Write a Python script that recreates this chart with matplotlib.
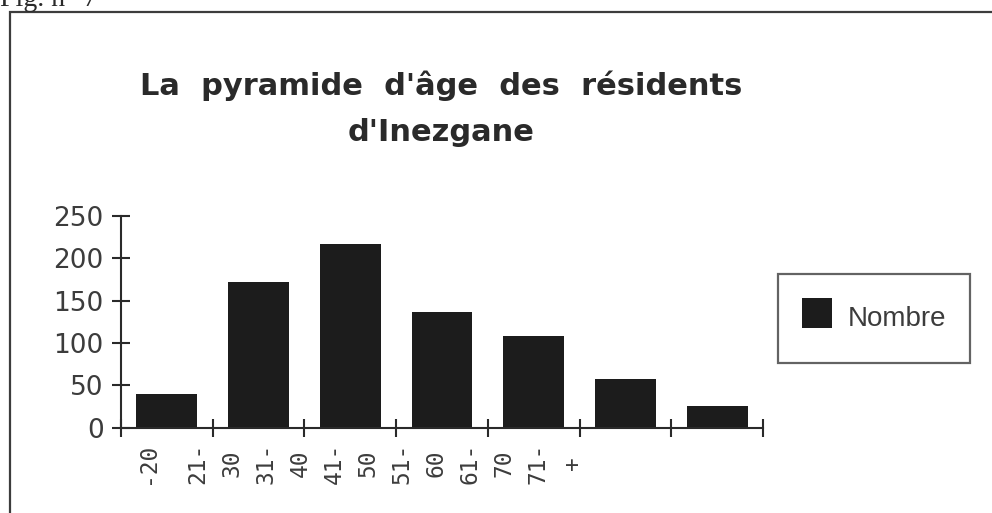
import numpy as np
import matplotlib
matplotlib.use("Agg")
import matplotlib.pyplot as plt
from matplotlib.patches import Rectangle
from matplotlib.lines import Line2D
from matplotlib.offsetbox import HPacker

# ---- data ----
categories = ["-20", "21-\n30", "31-\n40", "41-\n50", "51-\n60", "61-\n70", "71-\n+"]
nombre = [40, 172, 217, 137, 108, 58, 26]
yticks = [0, 50, 100, 150, 200, 250]
title_line1 = "La  pyramide  d'âge  des  résidents"
title_line2 = "d'Inezgane"
legend_label = "Nombre"
fig_label = "Fig. n° 7"

W, H = 992, 513
fig = plt.figure(figsize=(W / 100, H / 100), dpi=100)
fig.patch.set_facecolor("white")

dark = "#2a2a2a"
gray = "#3c3c3c"
bar_color = "#1c1c1c"

# outer frame (extends beyond canvas at right/bottom)
fig.patches.append(Rectangle((10 / W, -0.2), 1.2, 1 - 12 / H + 0.2,
                             transform=fig.transFigure, fill=False,
                             edgecolor=gray, lw=1.6))
fig.text(0 / W, 1 - 6 / H, fig_label, family="Liberation Serif", fontsize=20,
         color=dark, va="baseline", ha="left")

ax = fig.add_axes([121 / W, 1 - 427.7 / H, (763 - 121) / W, (427.7 - 216) / H])
x = np.arange(len(categories))
bars = ax.bar(x, nombre, width=0.665, color=bar_color, label=legend_label)

ax.set_xlim(-0.5, len(categories) - 0.5)
ax.set_ylim(0, 250)
for s in ["top", "right"]:
    ax.spines[s].set_visible(False)
for s in ["left", "bottom"]:
    ax.spines[s].set_color(dark)
    ax.spines[s].set_linewidth(1.5)

ax.set_yticks(yticks)
ax.set_yticklabels([str(v) for v in yticks], family="DejaVu Sans", fontsize=19, color=gray)
ax.tick_params(axis="y", direction="inout", length=13, width=1.5, color=dark, pad=6)

# category boundaries carry the tick marks
ax.set_xticks(np.arange(-0.5, len(categories), 1.0), minor=True)
ax.tick_params(axis="x", which="minor", direction="inout", length=13, width=1.5, color=dark)
# labels spaced as in the original (not aligned to bars)
label_pos = -0.216 + 0.742 * x
ax.set_xticks(label_pos)
ax.set_xticklabels(categories, rotation=90, family="DejaVu Sans Mono", fontsize=16.5,
                   color=gray, linespacing=1.6)
for lab in ax.get_xticklabels():
    lab.set_multialignment("center")
ax.tick_params(axis="x", which="major", length=0, pad=11)

# title
fig.text(441 / W, 1 - 95 / H, title_line1, family="DejaVu Sans", fontweight="bold",
         fontsize=22, color=dark, ha="center", va="baseline")
fig.text(441 / W, 1 - 141 / H, title_line2, family="DejaVu Sans", fontweight="bold",
         fontsize=22, color=dark, ha="center", va="baseline")

handle = Line2D([], [], ls="", marker="s", markersize=22.3, markeredgewidth=0,
                color=bar_color)
leg = fig.legend(handles=[handle], labels=[legend_label], loc="center left",
                 bbox_to_anchor=(778 / W, 1 - 318.5 / H), frameon=True, fancybox=False,
                 prop={"family": "Liberation Sans", "size": 20}, numpoints=1,
                 handlelength=1.12, handleheight=1.9, handletextpad=0.55,
                 borderpad=0.85, borderaxespad=0)
leg.get_frame().set_edgecolor(gray)
leg.get_frame().set_linewidth(1.6)
for t in leg.get_texts():
    t.set_color(gray)


def _center_rows(box):
    try:
        for child in box.get_children():
            if isinstance(child, HPacker):
                child.align = "center"
            _center_rows(child)
    except Exception:
        pass


_center_rows(leg._legend_box)

fig.savefig("out.png", dpi=100)
